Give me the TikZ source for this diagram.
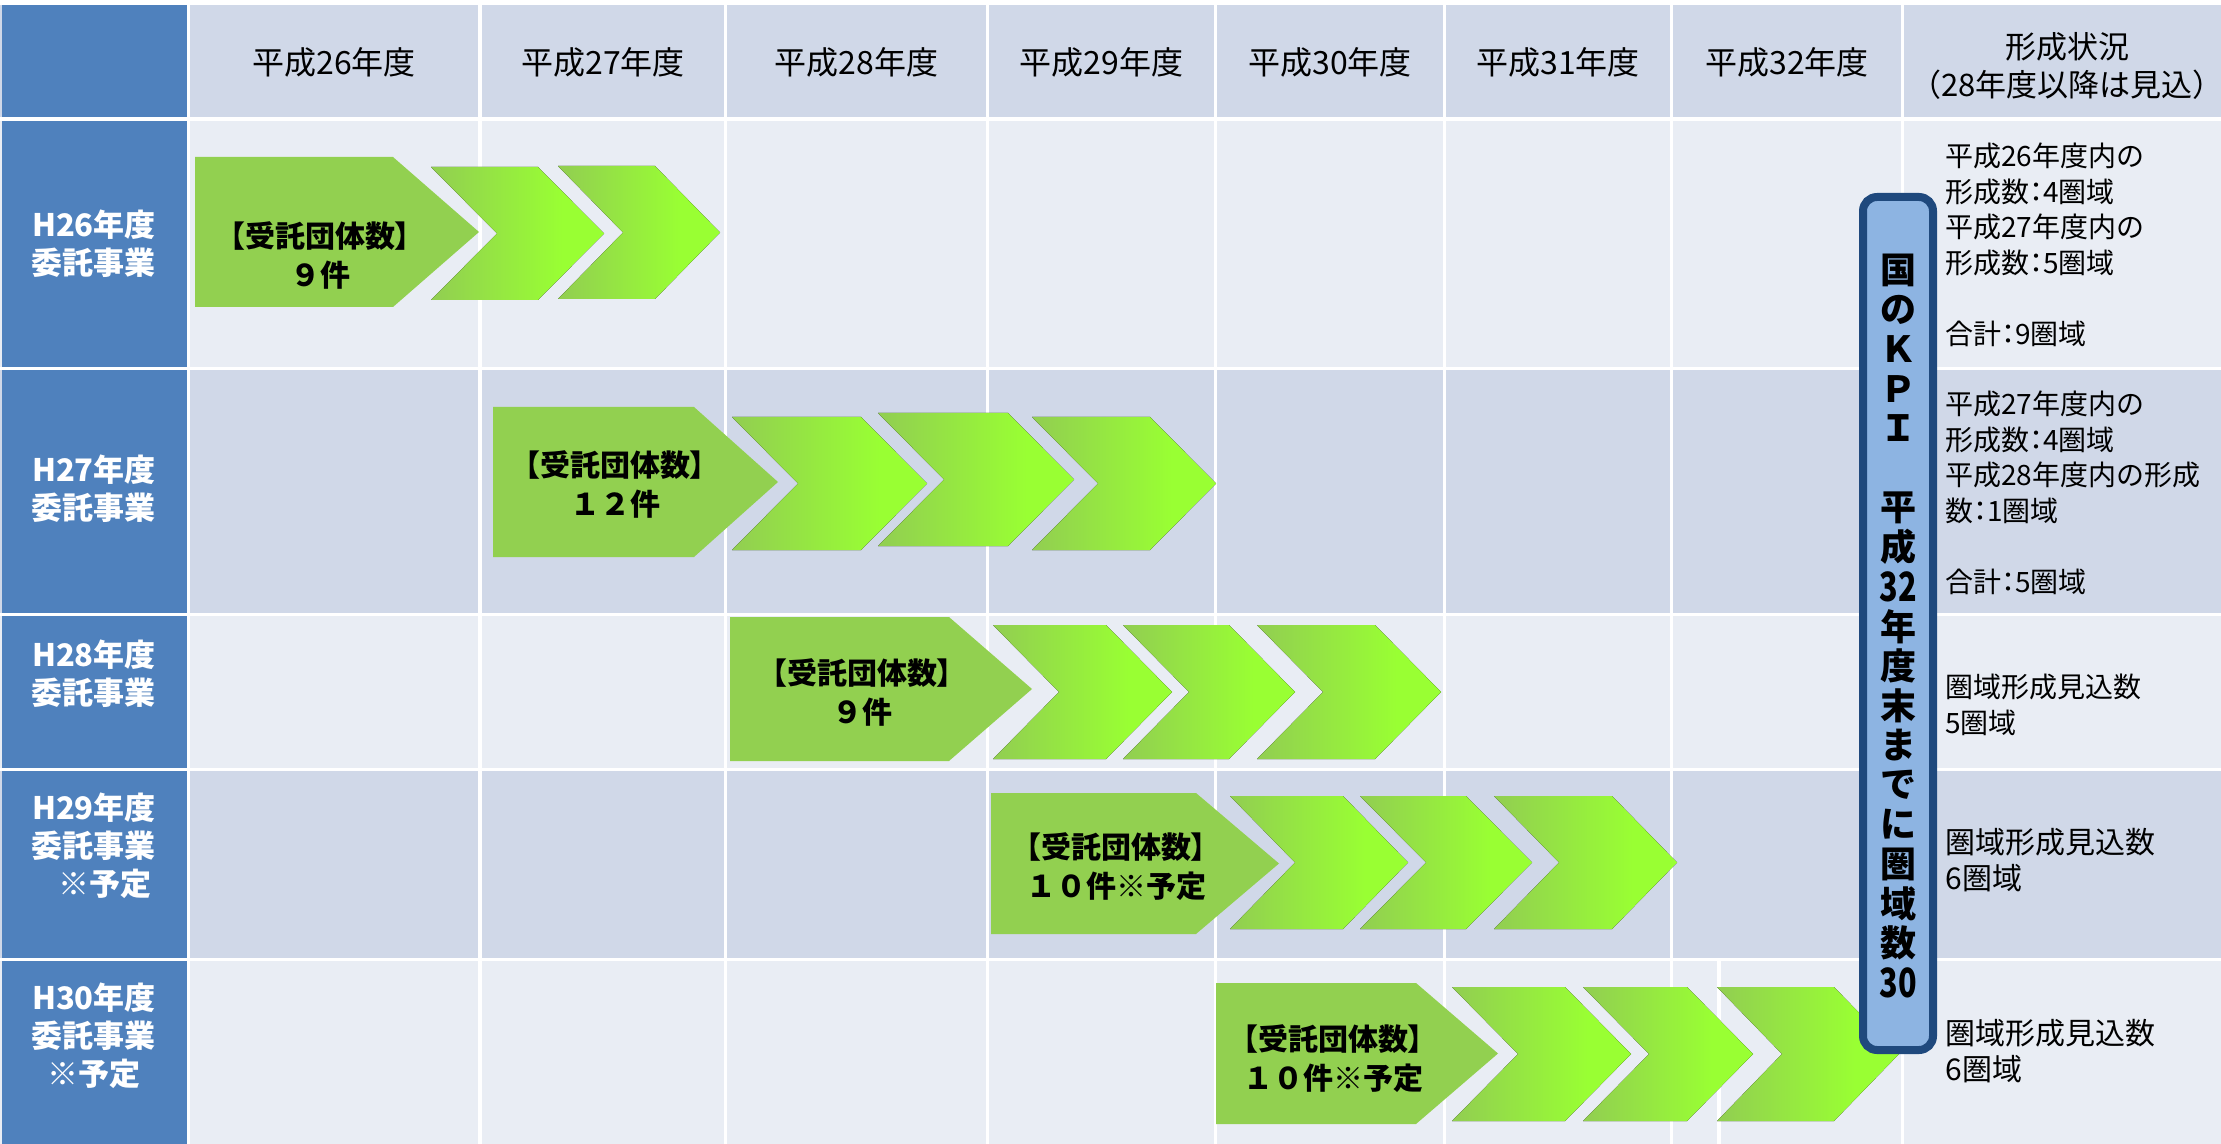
\documentclass[tikz,border=0pt]{standalone}
\usepackage{fontspec}
\usepackage{graphicx}
\setmainfont{Noto Sans CJK JP}
\definecolor{hblue}{HTML}{4F81BD}
\definecolor{rowd}{HTML}{D0D8E8}
\definecolor{rowl}{HTML}{E9EDF4}
\definecolor{pgreen}{HTML}{92D050}
\definecolor{lgreen}{HTML}{99FF33}
\definecolor{kfill}{HTML}{8DB4E2}
\definecolor{kline}{HTML}{1F497D}
\pgfdeclarehorizontalshading{chevsh}{100bp}{color(0bp)=(pgreen); color(27bp)=(pgreen); color(63bp)=(lgreen); color(100bp)=(lgreen)}
\newcommand\paltx[1]{{\addfontfeatures{RawFeature=+palt}#1}}
\newcommand\colx{\paltx{：}}
\newcommand\narrowdig[1]{\scalebox{0.85}[1.12]{#1}}
\newcommand\mychev[5]{% L d R T B
  \pgfmathsetmacro\cyv{(#4+#5)/2}
  \fill[chev] (#1,#4) -- (#3,#4) -- ({#3+#2},\cyv) -- (#3,#5) -- (#1,#5) -- ({#1+#2},\cyv) -- cycle;}
\newcommand\mypent[5]{% L E tip T B
  \pgfmathsetmacro\cyv{(#4+#5)/2}
  \fill[pent] (#1,#4) -- (#2,#4) -- (#3,\cyv) -- (#2,#5) -- (#1,#5) -- cycle;}
\tikzset{
  gridline/.style={white, line width=1.75pt},
  pent/.style={fill=pgreen},
  chev/.style={shading=chevsh},
  hdr/.style={inner sep=0pt, font=\fontsize{16}{19}\selectfont},
  rowlab/.style={inner sep=0pt, align=center, text=white, font=\fontsize{15.5}{19}\selectfont\bfseries},
  ptext/.style={inner sep=0pt, align=center, font=\fontsize{15}{19.5}\selectfont\bfseries},
  stat/.style={inner sep=0pt, anchor=west, align=left, font=\fontsize{14}{17.75}\selectfont},
  kpibox/.style={fill=kfill, draw=kline, line width=4pt, rounded corners=7pt},
  kpich/.style={inner sep=0pt, font=\fontsize{18}{18}\selectfont\bfseries},
}
\begin{document}
\begin{tikzpicture}[x=0.5pt,y=-0.5pt]
\useasboundingbox (0,0) rectangle (2221,1144);
\fill[white] (0,0) rectangle (2221,1144);
% row bands
\fill[rowd] (0,5) rectangle (2221,119);
\fill[rowl] (0,119) rectangle (2221,368.5);
\fill[rowd] (0,368.5) rectangle (2221,614.5);
\fill[rowl] (0,614.5) rectangle (2221,769.5);
\fill[rowd] (0,769.5) rectangle (2221,959.5);
\fill[rowl] (0,959.5) rectangle (2221,1144);
\fill[hblue] (1.5,5) rectangle (188.5,1144);
% grid lines
\foreach \yy in {119,368.5,614.5,769.5,959.5}
  \draw[gridline] (0,\yy) -- (2221,\yy);
\foreach \xx in {188.5,480,725.5,987.5,1215.5,1444.5,1671.5,1902.5}
  \draw[gridline] (\xx,5) -- (\xx,1144);
\draw[gridline] (1719,959.5) -- (1719,1144);
% headers
\node[hdr] (h1) at (334,62) {平成26年度};
\node[hdr] (h2) at (603,62) {平成27年度};
\node[hdr] (h3) at (856.5,62) {平成28年度};
\node[hdr] (h4) at (1101.5,62) {平成29年度};
\node[hdr] (h5) at (1330,62) {平成30年度};
\node[hdr] (h6) at (1558,62) {平成31年度};
\node[hdr] (h7) at (1787,62) {平成32年度};
\node[hdr, align=center, font=\fontsize{15.5}{19}\selectfont] (h8) at (2067,66) {形成状況\\（28年度以降は見込）};
% row labels
\node[rowlab] (r1) at (94,244) {H26年度\\委託事業};
\node[rowlab] (r2) at (94,488.5) {H27年度\\委託事業};
\node[rowlab] (r3) at (94,673.5) {H28年度\\委託事業};
\node[rowlab] (r4) at (94,845.5) {H29年度\\委託事業\\\hspace*{0.7em}※予定};
\node[rowlab] (r5) at (94,1035.5) {H30年度\\委託事業\\※予定};
% row 1
\mypent{195}{393}{479}{157}{307}
\mychev{431}{66}{538}{167}{300}
\mychev{558}{65}{655}{166}{299}
% row 2
\mypent{493}{694}{778}{407}{557}
\mychev{732}{66}{861}{417}{550}
\mychev{878}{66}{1008}{413}{546}
\mychev{1032}{66}{1150}{417}{550}
% row 3
\mypent{730}{949}{1032}{617}{761}
\mychev{993}{66}{1106}{625}{759}
\mychev{1123}{66}{1229}{625}{759}
\mychev{1257}{66}{1375}{625}{759}
% row 4
\mypent{991}{1196}{1279}{793}{934}
\mychev{1230}{65}{1343}{796}{929}
\mychev{1360}{66}{1466}{796}{929}
\mychev{1494}{65}{1612}{796}{929}
% row 5
\mypent{1216}{1416}{1498}{983}{1124}
\mychev{1452}{66}{1565}{987}{1121}
\mychev{1583}{66}{1687}{987}{1121}
\mychev{1717}{65}{1834}{987}{1121}
% pentagon texts
\node[ptext] (p1) at (320,255) {\paltx{【受託団体数】}\\９件};
\node[ptext] (p2) at (615,484) {\paltx{【受託団体数】}\\１２件};
\node[ptext] (p3) at (862,692) {\paltx{【受託団体数】}\\９件};
\node[ptext] (p4) at (1116,867) {\paltx{【受託団体数】}\\１０件※予定};
\node[ptext] (p5) at (1333,1058.5) {\paltx{【受託団体数】}\\１０件※予定};
% KPI box
\draw[kpibox] (1863,197) rectangle (1933,1050);
\foreach \c [count=\i from 0] in {国,の,Ｋ,Ｐ,Ｉ,{},平,成,{\narrowdig{32}},年,度,末,ま,で,に,圏,域,数,{\narrowdig{30}}}
  \node[kpich] (k\i) at (1898,{270+39.6*\i}) {\c};
% status column
\node[stat] (s1) at (1945,245) {平成26年度内の\\形成数\colx 4圏域\\平成27年度内の\\形成数\colx 5圏域\\[17.75pt]合計\colx 9圏域};
\node[stat] (s2) at (1945,493) {平成27年度内の\\形成数\colx 4圏域\\平成28年度内の形成\\数\colx 1圏域\\[17.75pt]合計\colx 5圏域};
\node[stat] (s3) at (1945,705) {圏域形成見込数\\5圏域};
\node[stat, font=\fontsize{15}{18}\selectfont] (s4) at (1945,860) {圏域形成見込数\\6圏域};
\node[stat, font=\fontsize{15}{18}\selectfont] (s5) at (1945,1051) {圏域形成見込数\\6圏域};
\end{tikzpicture}
\end{document}
